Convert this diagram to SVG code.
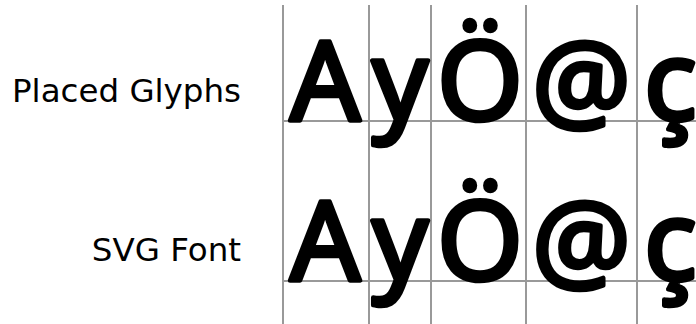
<svg xmlns="http://www.w3.org/2000/svg" width="696" height="324" viewBox="0 0 696 324">
  <style>
    .grid { stroke: #999999; stroke-width: 2; fill: none; }
    .label { font-family: "DejaVu Sans", "Open Sans", sans-serif; font-size: 32.5px; fill: #000; text-anchor: end; }
    .glyphs { font-family: "Noto Sans", "DejaVu Sans", sans-serif; font-size: 110px; fill: #000; stroke: #000; stroke-width: 4.5; stroke-linejoin: round; stroke-linecap: round; }
  </style>
  <rect width="696" height="324" fill="#ffffff"/>
  <g id="grid">
    <path class="grid" d="M283 5V324M369 5V324M431 5V324M526 5V324M637 5V324M283 121H696M283 281H696"/>
  </g>
  <g id="placed-glyphs">
    <text class="label" x="241" y="102">Placed Glyphs</text>
    <text class="glyphs" x="290 372 437 532 644" y="120">AyÖ@ç</text>
  </g>
  <g id="svg-font">
    <text class="label" x="241" y="261">SVG Font</text>
    <text class="glyphs" x="290 372 437 532 644" y="280">AyÖ@ç</text>
  </g>
</svg>
